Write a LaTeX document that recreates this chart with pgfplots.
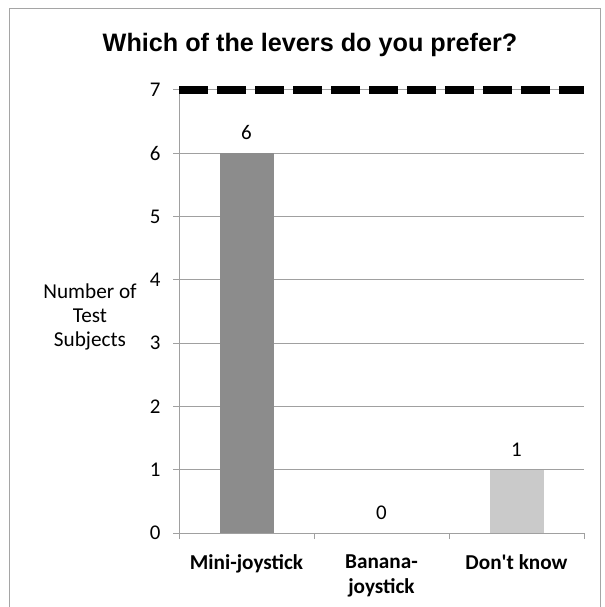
\documentclass[border=0pt]{standalone}
\usepackage{pgfplots}
\pgfplotsset{compat=1.18}
\usepackage{fontspec}
\setmainfont{Carlito}
\newfontfamily\titlefont{Liberation Sans}
\definecolor{gridc}{RGB}{160,160,160}
\definecolor{frame}{RGB}{165,165,165}
\definecolor{barA}{RGB}{140,140,140}
\definecolor{barB}{RGB}{202,202,202}
\begin{document}
\begin{tikzpicture}
\path[use as bounding box] (0,0) rectangle (605bp,607bp);
\draw[frame, line width=1bp] (9.5bp,-5bp) rectangle (600bp,598bp);
\node[font=\titlefont\bfseries\fontsize{25.3}{30}\selectfont] at (310bp,562bp) {Which of the levers do you prefer?};
\node[align=center, font=\fontsize{21.3}{24.5}\selectfont] at (90bp,290bp) {Number of\\Test\\Subjects};
\begin{axis}[
  scale only axis, width=405bp, height=443bp,
  at={(179bp,74bp)}, anchor=south west,
  xmin=-0.5, xmax=2.5, ymin=0, ymax=7,
  axis x line=bottom, axis y line=left,
  axis line style={gridc, line width=1bp, -},
  clip=false,
  ytick={0,1,2,3,4,5,6,7},
  ymajorgrids, grid style={gridc, line width=1bp},
  xtick={0,1,2},
  xticklabels={Mini-joystick,{Banana-\\joystick},Don\textquotesingle t know},
  minor xtick={-0.5,0.5,1.5,2.5},
  tick align=outside,
  major tick length=6bp, minor tick length=6bp,
  y tick style={gridc, line width=1bp},
  minor x tick style={gridc, line width=1bp},
  major x tick style={draw=none},
  /pgf/number format/assume math mode=true,
  yticklabel style={font=\fontsize{21}{24}\selectfont, xshift=-9bp},
  xticklabel style={font=\bfseries\fontsize{21.3}{25}\selectfont, align=center, yshift=-12bp},
  nodes near coords,
  every node near coord/.append style={font=\fontsize{21}{24}\selectfont, black, yshift=10bp},
]
\addplot[ybar, bar width=54bp, bar shift=0pt, fill=barA, draw=none] coordinates {(0,6)};
\addplot[ybar, bar width=54bp, bar shift=0pt, fill=none, draw=none] coordinates {(1,0)};
\addplot[ybar, bar width=54bp, bar shift=0pt, fill=barB, draw=none] coordinates {(2,1)};
\addplot[black, line width=8.5bp, dash pattern=on 29bp off 9bp, nodes near coords={}, mark=none] coordinates {(-0.5,7) (2.5,7)};
\end{axis}
\end{tikzpicture}
\end{document}
